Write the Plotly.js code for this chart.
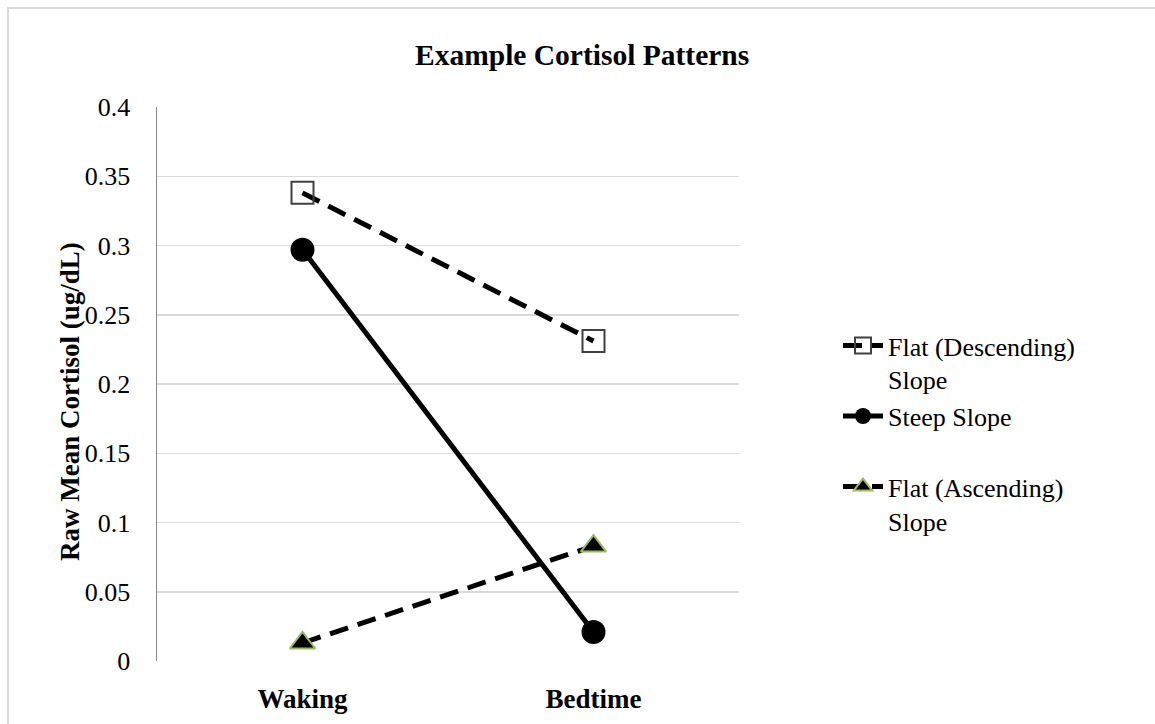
<!DOCTYPE html>
<html>
<head>
<meta charset="utf-8">
<script src="https://cdn.plot.ly/plotly-3.0.1.min.js"></script>
<style>
  html, body { margin: 0; padding: 0; background: #fff; }
  #wrap { position: relative; width: 1155px; height: 724px; overflow: hidden; }
  #chart { width: 1155px; height: 724px; }
  #frame { position: absolute; left: 7px; top: 7px; width: 1170px; height: 740px;
           border: 2px solid #d9d9d9; pointer-events: none; }
</style>
</head>
<body>
<div id="wrap">
  <div id="chart"></div>
  <div id="frame"></div>
</div>
<script>
const categories = ['Waking', 'Bedtime'];
const flatDescending = [0.338, 0.231];
const steepSlope = [0.297, 0.021];
const flatAscending = [0.013, 0.083];
const yTickVals = [0, 0.05, 0.1, 0.15, 0.2, 0.25, 0.3, 0.35, 0.4];
const yTickText = ['0', '0.05', '0.1', '0.15', '0.2', '0.25', '0.3', '0.35', '0.4'];
const seriesNames = ['Flat (Descending)<br>Slope', 'Steep Slope<br>&nbsp;', 'Flat (Ascending)<br>Slope'];
const yTitle = 'Raw Mean Cortisol (ug/dL)';

const serif = '"Times New Roman", "Liberation Serif", Tinos, serif';

const traces = [
  {
    x: categories, y: flatDescending, name: seriesNames[0], type: 'scatter', mode: 'lines+markers',
    line: { color: '#000000', width: 5, dash: '19px,10px' },
    marker: { symbol: 'square', size: 22, color: 'rgba(255,255,255,0)', line: { color: '#404040', width: 2 } }
  },
  {
    x: categories, y: steepSlope, name: seriesNames[1], type: 'scatter', mode: 'lines+markers',
    line: { color: '#000000', width: 5 },
    marker: { symbol: 'circle', size: 24, color: '#000000', line: { color: '#000000', width: 0 } }
  },
  {
    x: categories, y: flatAscending, name: seriesNames[2], type: 'scatter', mode: 'lines+markers',
    line: { color: '#000000', width: 5, dash: '19px,10px' },
    marker: { symbol: 'triangle-up', size: 22, color: '#000000', line: { color: '#9bbb59', width: 2 } }
  }
];

const layout = {
  width: 1155, height: 724,
  paper_bgcolor: '#ffffff', plot_bgcolor: '#ffffff',
  margin: { l: 157, r: 416, t: 107, b: 63 },
  font: { family: serif, size: 26, color: '#000000' },
  title: {
    text: '<b>Example Cortisol Patterns</b>',
    font: { family: serif, size: 29.5, color: '#000000' },
    xref: 'container', x: 0.504, xanchor: 'center',
    yref: 'container', y: 1 - 55 / 724, yanchor: 'middle'
  },
  xaxis: {
    type: 'category', range: [-0.5, 1.5],
    showgrid: false, zeroline: false, showline: false,
    ticks: '', ticklabelstandoff: 19,
    tickfont: { family: serif, size: 27, color: '#000000', weight: 'bold' }
  },
  yaxis: {
    range: [0, 0.4], tickvals: yTickVals, ticktext: yTickText,
    showgrid: true, gridcolor: '#d9d9d9', gridwidth: 1.5,
    zeroline: false, showline: true, linecolor: '#868686', linewidth: 1.5,
    ticks: 'outside', ticklen: 20, tickcolor: 'rgba(0,0,0,0)',
    tickfont: { family: serif, size: 26, color: '#000000' }
  },
  annotations: [{
    text: '<b>' + yTitle + '</b>', textangle: -90,
    xref: 'paper', yref: 'paper',
    x: (70 - 157) / 582, y: (661 - 402) / 554,
    xanchor: 'center', yanchor: 'middle', showarrow: false,
    font: { family: serif, size: 27, color: '#000000' }
  }],
  showlegend: true,
  legend: {
    xref: 'container', yref: 'container',
    x: 838 / 1155, xanchor: 'left',
    y: 1 - 322 / 724, yanchor: 'top',
    valign: 'top', itemwidth: 40,
    font: { family: serif, size: 26, color: '#000000' },
    bgcolor: 'rgba(0,0,0,0)', borderwidth: 0, tracegroupgap: 0
  }
};

Plotly.newPlot('chart', traces, layout, { displayModeBar: false, staticPlot: true });
</script>
</body>
</html>
